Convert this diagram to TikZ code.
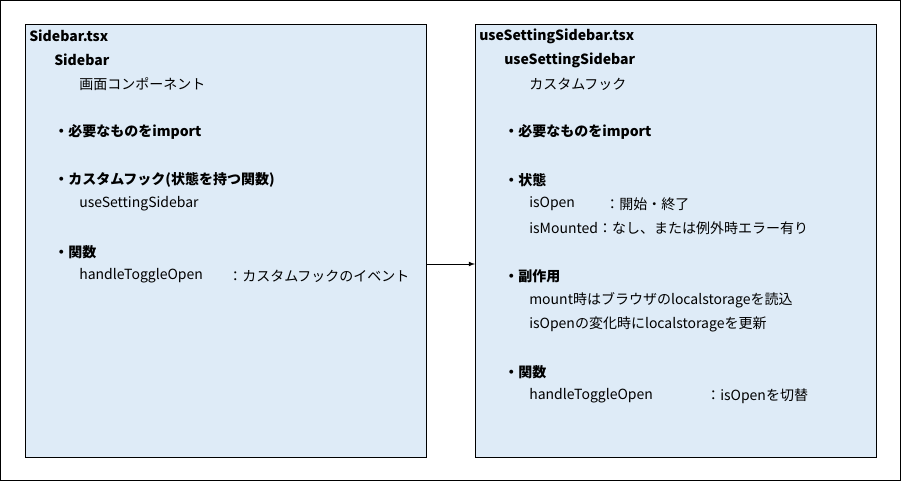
\documentclass[tikz,border=0pt]{standalone}
\usepackage{fontspec}
\setmainfont{Noto Sans CJK JP}
\usetikzlibrary{positioning}
\definecolor{boxblue}{HTML}{DEEBF7}
\tikzset{
  filebox/.style={draw=black, fill=boxblue, line width=0.6pt},
  txt/.style={anchor=west, inner sep=0pt, font=\fontsize{10.5}{12}\selectfont},
  btxt/.style={txt, font=\fontsize{10.5}{12}\selectfont\bfseries},
}
\begin{document}
\begin{tikzpicture}[x=0.75pt, y=-0.75pt]
  \useasboundingbox (0,0) rectangle (901,481);
  \draw [line width=0.6pt] (0.5,0.5) rectangle (900,480);
  % left file
  \draw [filebox] (25,24) rectangle (426,457);
  \coordinate (lout) at (426,264);
  \node [btxt] (lfile) at (29,36) {Sidebar.tsx};
  \node [btxt] (lname) at (54,60) {Sidebar};
  \node [txt] (ldesc) at (79,84) {画面コンポーネント};
  \node [btxt] (limp) at (54,132) {・必要なものをimport};
  \node [btxt] (lhook) at (54,180) {・カスタムフック(状態を持つ関数)};
  \node [txt] (lhookn) at (79,204) {useSettingSidebar};
  \node [btxt] (lfunc) at (54,252) {・関数};
  \node [txt] (lfuncn) at (79,276) {handleToggleOpen};
  \node [txt] (lfuncd) at (228,276) {：カスタムフックのイベント};
  % right file
  \draw [filebox] (475,24) rectangle (876,457);
  \coordinate (rin) at (475,264);
  \node [btxt] (rfile) at (479,36) {useSettingSidebar.tsx};
  \node [btxt] (rname) at (504,60) {useSettingSidebar};
  \node [txt] (rdesc) at (529,84) {カスタムフック};
  \node [btxt] (rimp) at (504,132) {・必要なものをimport};
  \node [btxt] (rstate) at (504,180) {・状態};
  \node [txt] (ropen) at (529,204) {isOpen};
  \node [txt] (ropend) at (605,204) {：開始・終了};
  \node [txt] (rmount) at (529,228) {isMounted：なし、または例外時エラー有り};
  \node [btxt] (reff) at (504,276) {・副作用};
  \node [txt] (reff1) at (529,300) {mount時はブラウザのlocalstorageを読込};
  \node [txt] (reff2) at (529,324) {isOpenの変化時にlocalstorageを更新};
  \node [btxt] (rfunc) at (504,372) {・関数};
  \node [txt] (rfuncn) at (529,396) {handleToggleOpen};
  \node [txt] (rfuncd) at (706,396) {：isOpenを切替};
  \draw [-latex, line width=0.6pt] (lout) -- (rin);
\end{tikzpicture}
\end{document}
